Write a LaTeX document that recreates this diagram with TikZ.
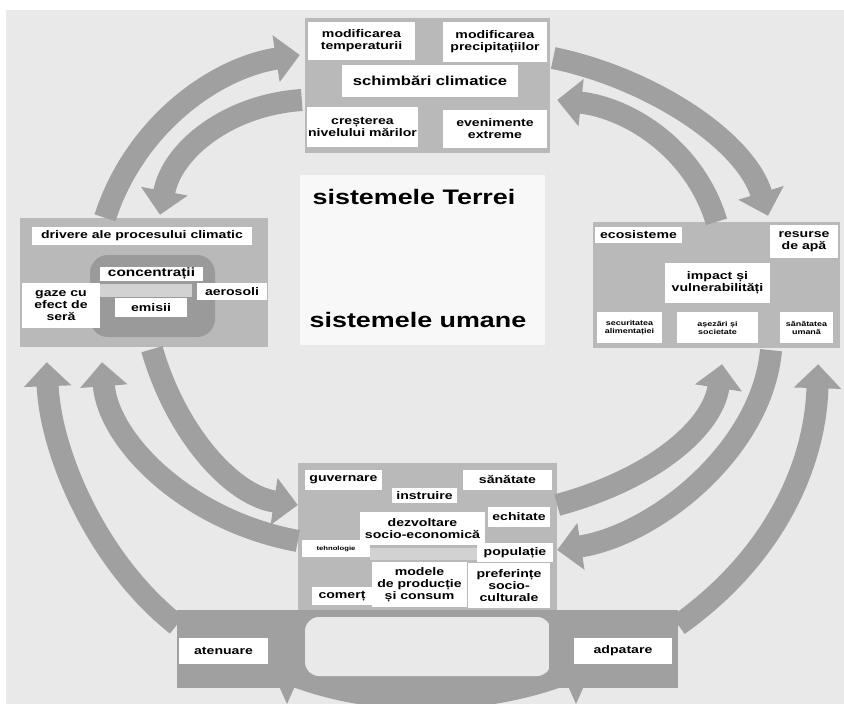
\documentclass[tikz,border=0pt]{standalone}
\usepackage{fontspec}
\newfontfamily\scanfont{Liberation Sans}[FakeStretch=1.28]
\usetikzlibrary{arrows.meta}
\definecolor{bggray}{HTML}{E9E9E9}
\definecolor{panelgray}{HTML}{B9B9B9}
\definecolor{arrowgray}{HTML}{A0A0A0}
\definecolor{ringgray}{HTML}{9A9A9A}
\definecolor{stripgray}{HTML}{D2D2D2}
\definecolor{centergray}{HTML}{F8F8F8}

\begin{document}
\begin{tikzpicture}[x=1pt, y=-1pt,
  panelnode/.style={fill=panelgray, inner sep=0pt},
  loopnode/.style={fill=arrowgray, inner sep=0pt},
  whitenode/.style={fill=white, align=center, inner sep=0pt,
    font=\scanfont\bfseries\fontsize{11}{12}\selectfont},
  tinynode/.style={whitenode, font=\scanfont\bfseries\fontsize{7}{8}\selectfont},
  titlenode/.style={font=\scanfont\bfseries\fontsize{21}{24}\selectfont},
  bigarrow/.style={draw=arrowgray, line width=22pt, -{Triangle[width=46pt,length=24pt]}}
]
\useasboundingbox (0,0) rectangle (844,704);
\clip (0,0) rectangle (844,704);

% background
\fill[white] (0,0) rectangle (844,704);
\fill[bggray] (6,10) rectangle (844,704);
\fill[centergray] (300,175) rectangle (545,345);

% schimbari climatice
\node[panelnode, minimum width=245, minimum height=135] (clima) at (427.5,85.5) {};
\node[whitenode, minimum width=107, minimum height=38] (temp) at (361.5,41) {modificarea\\temperaturii};
\node[whitenode, minimum width=104, minimum height=40] (precip) at (495,42) {modificarea\\precipitațiilor};
\node[whitenode, minimum width=176, minimum height=32, font=\scanfont\bfseries\fontsize{13}{14}\selectfont] (schimb) at (430,81) {schimbări climatice};
\node[whitenode, minimum width=111, minimum height=40] (mari) at (362.5,127) {creșterea\\nivelului mărilor};
\node[whitenode, minimum width=104, minimum height=38] (extreme) at (495,129) {evenimente\\extreme};

% drivere
\node[panelnode, minimum width=248, minimum height=129] (drivere) at (144,282.5) {};
\node[whitenode, minimum width=220, minimum height=18] (driv) at (142,236) {drivere ale procesului climatic};
\fill[ringgray, rounded corners=18pt] (90,255) rectangle (215,337);
\fill[stripgray] (100,284) rectangle (192,297);
\node[whitenode, minimum width=103, minimum height=14, font=\scanfont\bfseries\fontsize{12}{12}\selectfont] (conc) at (151.5,273.5) {concentrații};
\node[whitenode, minimum width=70, minimum height=17] (aero) at (232,291.5) {aerosoli};
\node[whitenode, minimum width=72, minimum height=19] (emisii) at (151,307.5) {emisii};
\node[whitenode, minimum width=78, minimum height=45] (gaze) at (61,305.5) {gaze cu\\efect de\\seră};

% impact
\node[panelnode, minimum width=247, minimum height=126] (impact) at (716.5,285) {};
\node[whitenode, minimum width=87, minimum height=16] (eco) at (638.5,235) {ecosisteme};
\node[whitenode, minimum width=68, minimum height=33] (apa) at (804,241.5) {resurse\\de apă};
\node[whitenode, minimum width=105, minimum height=40] (vuln) at (717.5,283) {impact și\\vulnerabilități};
\node[tinynode, minimum width=65, minimum height=31] (secur) at (629.5,327.5) {securitatea\\alimentației};
\node[tinynode, minimum width=81, minimum height=31] (asez) at (717.5,327.5) {așezări și\\societate};
\node[tinynode, minimum width=53, minimum height=31] (umana) at (806.5,327.5) {sănătatea\\umană};

% socio-economic
\node[panelnode, minimum width=259, minimum height=148] (socio) at (427.5,537) {};
\fill[stripgray] (370,548) rectangle (477,560);
\node[whitenode, minimum width=77, minimum height=20] (guv) at (343.5,480) {guvernare};
\node[whitenode, minimum width=89, minimum height=20] (sanat) at (507.5,480) {sănătate};
\node[whitenode, minimum width=65, minimum height=15] (instr) at (424.5,495.5) {instruire};
\node[whitenode, minimum width=125, minimum height=33] (dezv) at (422.5,528.5) {dezvoltare\\socio-economică};
\node[whitenode, minimum width=62, minimum height=20] (echit) at (519,517) {echitate};
\node[tinynode, minimum width=68, minimum height=17, font=\scanfont\bfseries\fontsize{6}{7}\selectfont] (tehn) at (336,548.5) {tehnologie};
\node[whitenode, minimum width=76, minimum height=19] (popul) at (515,552.5) {populație};
\node[whitenode, minimum width=60, minimum height=18] (comert) at (342,596) {comerț};
\node[whitenode, minimum width=95, minimum height=45] (model) at (419.5,584.5) {modele\\de producție\\și consum};
\node[whitenode, minimum width=82, minimum height=45] (prefer) at (509,585.5) {preferințe\\socio-\\culturale};

% atenuare / adaptare loop
\fill[arrowgray] (300,610) rectangle (552,688);
\fill[arrowgray] (285,684) .. controls (370,718) and (480,718) .. (570,684) -- cycle;
\fill[bggray, rounded corners=14pt] (305,617) rectangle (551,676);
\fill[arrowgray] (279,686) -- (295,686) -- (287,704) -- cycle;
\fill[arrowgray] (568,686) -- (584,686) -- (576,704) -- cycle;
\node[loopnode, minimum width=126, minimum height=78] (mitig) at (240,649) {};
\node[loopnode, minimum width=129, minimum height=78] (adapt) at (613.5,649) {};
\node[whitenode, minimum width=89, minimum height=26] (aten) at (223.5,651) {atenuare};
\node[whitenode, minimum width=98, minimum height=26] (adpt) at (623,651) {adpatare};

% big arrows
\draw[bigarrow] ([xshift=-39pt]drivere.north) .. controls (135,125) and (215,68) .. ([xshift=-5pt,yshift=30.5pt]clima.west);
\draw[bigarrow] ([xshift=-3pt,yshift=-14.5pt]clima.west) .. controls (228,105) and (172,150) .. ([xshift=16pt,yshift=3pt]drivere.north);
\draw[bigarrow] ([xshift=3pt,yshift=27.5pt]clima.east) .. controls (650,78) and (745,140) .. ([xshift=51.5pt,yshift=6pt]impact.north);
\draw[bigarrow] (impact.north) .. controls (695,150) and (630,108) .. ([xshift=7pt,yshift=-14.5pt]clima.east);
\draw[bigarrow] ([yshift=24pt]mitig.west) .. controls (95,560) and (50,450) .. ([xshift=27pt,yshift=-15pt]drivere.south west);
\draw[bigarrow] ([yshift=-4pt]socio.west) .. controls (185,520) and (108,440) .. ([xshift=-42pt,yshift=-15pt]drivere.south);
\draw[bigarrow] ([xshift=8pt,yshift=-2pt]drivere.south) .. controls (175,430) and (230,495) .. ([yshift=32pt]socio.west);
\draw[bigarrow] ([yshift=32pt]socio.east) .. controls (650,480) and (712,430) .. ([xshift=5.5pt,yshift=-16pt]impact.south);
\draw[bigarrow] ([xshift=54.5pt,yshift=-2pt]impact.south) .. controls (762,450) and (655,535) .. ([yshift=-13pt]socio.east);
\draw[bigarrow] ([yshift=24pt]adapt.east) .. controls (770,560) and (815,470) .. ([xshift=-22pt,yshift=-16pt]impact.south east);

\node[titlenode] (terra) at (414,197) {sistemele Terrei};
\node[titlenode] (umane) at (418,320) {sistemele umane};

\end{tikzpicture}
\end{document}
